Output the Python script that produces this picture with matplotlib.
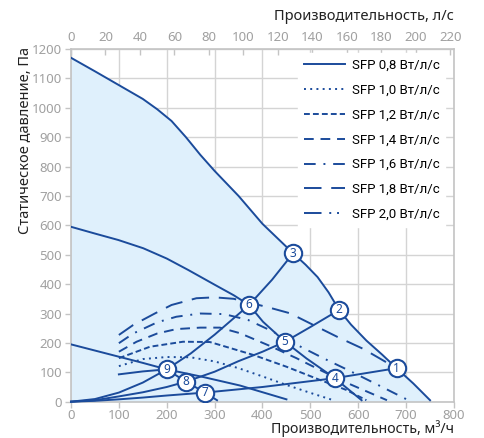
import numpy as np
import matplotlib
matplotlib.use("Agg")
import matplotlib.pyplot as plt
from matplotlib.lines import Line2D

plt.rcParams['font.family'] = ['Noto Sans', 'DejaVu Sans']

# кривые вентилятора (м3/ч, Па)
fan_max_x = [0, 50, 100, 150, 180, 210, 240, 270, 300, 350, 400, 464, 490, 515, 538, 560,
             585, 617, 650, 680, 715, 750]
fan_max_y = [1170, 1124, 1077, 1030, 995, 955, 900, 840, 785, 700, 605, 505, 466, 424, 372,
             312, 262, 208, 160, 114, 62, 5]
fan_mid_x = [0, 50, 99, 151, 200, 245, 300, 340, 372, 401, 447, 492, 551, 607]
fan_mid_y = [595, 572, 550, 522, 487, 448, 398, 362, 329, 272, 204, 147, 80, 5]
fan_low_x = [0, 50, 100, 150, 200, 276, 353, 450]
fan_low_y = [195, 174, 153, 132, 110, 84, 55, 8]

# характеристики сети
sys_a_x = [0, 50, 100, 150, 200, 250, 300, 372, 420, 464]
sys_a_y = [0, 9, 31, 65, 110, 164, 228, 329, 415, 505]
sys_b_x = [0, 50, 100, 150, 200, 240, 300, 350, 400, 447, 500, 560]
sys_b_y = [0, 5, 18, 32, 50, 68, 102, 138, 170, 204, 254, 312]
sys_c_x = [0, 50, 100, 150, 200, 280, 400, 551, 680]
sys_c_y = [0, 3, 8, 14, 21, 31, 50, 80, 114]

# линии SFP
sfp08_x = [100, 150, 200, 240, 280, 305]
sfp08_y = [93, 103, 110, 68, 31, 5]
sfp10_x = [100, 150, 200, 250, 300, 350, 400, 450, 500, 548]
sfp10_y = [121, 145, 152, 151, 137, 114, 86, 57, 30, 5]
sfp12_x = [100, 165, 234, 290, 311, 381, 450, 520, 575, 617]
sfp12_y = [148, 187, 204, 203, 193, 159, 119, 74, 40, 5]
sfp14_x = [100, 137, 180, 220, 270, 311, 353, 415, 471, 520, 575, 660]
sfp14_y = [170, 204, 232, 247, 252, 252, 233, 190, 148, 108, 65, 5]
sfp16_x = [100, 130, 180, 220, 270, 320, 370, 420, 470, 527, 582, 640, 701]
sfp16_y = [199, 232, 270, 289, 300, 298, 278, 240, 195, 148, 105, 58, 8]
sfp18_x = [100, 130, 175, 210, 262, 300, 340, 372, 410, 457, 505, 557, 610, 680]
sfp18_y = [227, 261, 300, 329, 352, 355, 350, 337, 322, 301, 262, 220, 180, 114]

# рабочие точки
pt_x = [680, 560, 464, 551, 447, 372, 280, 240, 200]
pt_y = [114, 312, 505, 80, 204, 329, 31, 68, 110]
pt_n = ['1', '2', '3', '4', '5', '6', '7', '8', '9']

blue = '#1b4b9b'
fill = '#dff0fc'
gray = '#a0a0a0'

fig = plt.figure(figsize=(4.84, 4.38), dpi=100)
ax = fig.add_axes([0.1467, 0.0829, 0.7913, 0.8053])

ax.fill_between(fan_max_x, fan_max_y, 0, color=fill, lw=0, zorder=1)

lw = 1.4
for xx, yy in [(fan_max_x, fan_max_y), (fan_mid_x, fan_mid_y), (fan_low_x, fan_low_y)]:
    ax.plot(xx, yy, color=blue, lw=lw, zorder=3)
for xx, yy in [(sys_a_x, sys_a_y), (sys_b_x, sys_b_y), (sys_c_x, sys_c_y)]:
    ax.plot(xx, yy, color=blue, lw=lw, zorder=3, clip_on=False)

styles = {
    '0,8': '-',
    '1,0': (0, (1, 2.2)),
    '1,2': (0, (3, 1.6)),
    '1,4': (0, (5, 3.5)),
    '1,6': (0, (6, 4, 1, 4)),
    '1,8': (0, (9, 5)),
    '2,0': (0, (9, 4, 1, 3, 1, 4)),
}
sfp = [('0,8', sfp08_x, sfp08_y), ('1,0', sfp10_x, sfp10_y), ('1,2', sfp12_x, sfp12_y),
       ('1,4', sfp14_x, sfp14_y), ('1,6', sfp16_x, sfp16_y), ('1,8', sfp18_x, sfp18_y)]
for name, xx, yy in sfp:
    ax.plot(xx, yy, color=blue, lw=lw, ls=styles[name], zorder=3)

for x, y, n in zip(pt_x, pt_y, pt_n):
    ax.plot(x, y, 'o', ms=12.5, mfc='white', mec=blue, mew=1.5, zorder=5)
    ax.text(x, y, n, ha='center', va='center', fontsize=8.5, fontweight='bold',
            color=blue, zorder=6)

ax.set_xlim(0, 800)
ax.set_ylim(0, 1200)
ax.set_xticks(np.arange(0, 801, 100))
ax.set_yticks(np.arange(0, 1201, 100))
ax.grid(True, color='#d4d4d4', lw=1.0, zorder=0)
ax.set_axisbelow(True)
for s in ax.spines.values():
    s.set_color('#c4c4c4')
    s.set_linewidth(1.2)
ax.tick_params(colors='#c4c4c4', labelcolor=gray, labelsize=9.5, length=4, width=1, pad=2.5)
ax.tick_params(axis='x', pad=1.5)

ax.set_xlabel('Производительность, м³/ч', fontsize=10.2, color='#222222',
              ha='right', va='baseline')
ax.xaxis.set_label_coords(1.0, -0.0885)
ax.set_ylabel('Статическое давление, Па', fontsize=10.5, color='#222222',
              ha='right', va='bottom')
ax.yaxis.set_label_coords(-0.098, 1.005)

top = ax.secondary_xaxis('top', functions=(lambda v: v / 3.6, lambda v: v * 3.6))
top.set_xticks(np.arange(0, 221, 20))
top.tick_params(colors='#c4c4c4', labelcolor=gray, labelsize=9.5, length=4, width=1,
                direction='in')
top.spines['top'].set_visible(False)
top.set_xlabel('Производительность, л/с', loc='right', fontsize=10.5, color='#222222',
               labelpad=8)

handles = [Line2D([], [], color=blue, lw=lw, ls=styles[k]) for k in styles]
labels = ['SFP %s Вт/л/с' % k for k in styles]
leg = ax.legend(handles, labels, loc='upper right', bbox_to_anchor=(0.995, 1.008),
                fontsize=9.5, handlelength=3.1, labelspacing=0.9, frameon=True,
                fancybox=False, borderpad=0.45, handletextpad=0.5)
leg.get_frame().set_facecolor('white')
leg.get_frame().set_edgecolor('white')
leg.get_frame().set_alpha(1)
for t in leg.get_texts():
    t.set_family(['Roboto', 'DejaVu Sans'])
leg.set_zorder(7)

fig.savefig('out.png', dpi=100)
